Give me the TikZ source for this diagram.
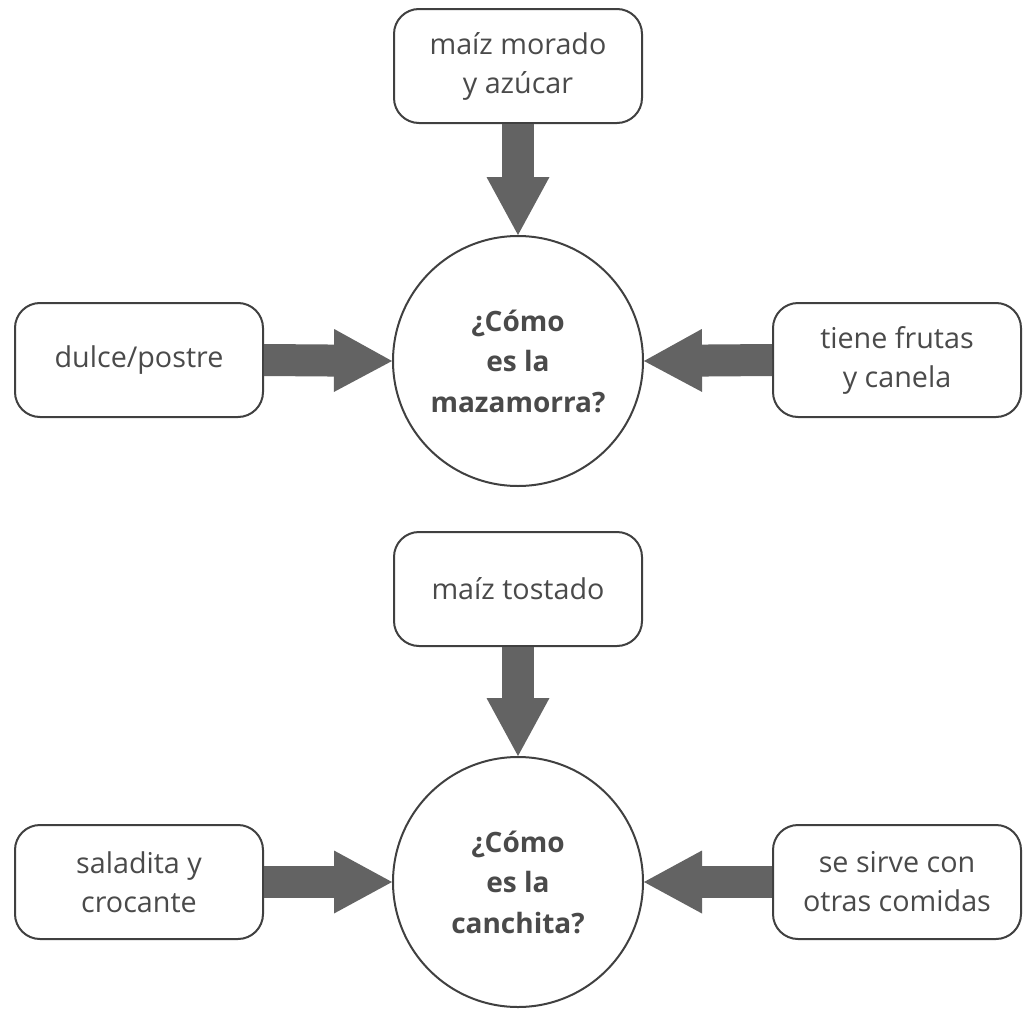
\documentclass[tikz,border=0pt]{standalone}
\usepackage{fontspec}
\setmainfont{Open Sans}
\usetikzlibrary{arrows.meta}
\definecolor{txtgray}{HTML}{4A4A4A}
\definecolor{edgegray}{HTML}{404040}
\definecolor{arrgray}{HTML}{636363}
\tikzset{
  box/.style={draw=edgegray, line width=2pt, rounded corners=25pt, fill=white,
    minimum width=248pt, minimum height=114pt, align=center, text=txtgray,
    font=\fontsize{28.7}{39}\selectfont},
  hub/.style={draw=edgegray, line width=2pt, circle, minimum size=250pt, inner sep=0pt,
    align=center, text=txtgray, font=\fontsize{28}{40.5}\selectfont\bfseries},
  bigarrow/.style={draw=arrgray, line width=32pt,
    -{Triangle[width=63pt,length=58pt,line width=0pt]}}
}
\begin{document}
\begin{tikzpicture}[x=1pt,y=-1pt]
\useasboundingbox (0,0) rectangle (1026,1009);
% group 1
\node[hub] (c1) at (518,361) {¿Cómo\\es la\\mazamorra?};
\node[box] (t1) at (518,66) {maíz morado\\y azúcar};
\node[box] (l1) at (139,360) {dulce/postre};
\node[box] (r1) at (897,360) {tiene frutas\\y canela};
\draw[bigarrow] (t1.south) -- (c1.north);
\draw[bigarrow] (l1.east) -- (c1.west);
\draw[bigarrow] (r1.west) -- (c1.east);
% group 2
\node[hub] (c2) at (518,882) {¿Cómo\\es la\\canchita?};
\node[box] (t2) at (518,589) {maíz tostado};
\node[box] (l2) at (139,882) {saladita y\\crocante};
\node[box] (r2) at (897,882) {se sirve con\\otras comidas};
\draw[bigarrow] (t2.south) -- (c2.north);
\draw[bigarrow] (l2.east) -- (c2.west);
\draw[bigarrow] (r2.west) -- (c2.east);
\end{tikzpicture}
\end{document}
